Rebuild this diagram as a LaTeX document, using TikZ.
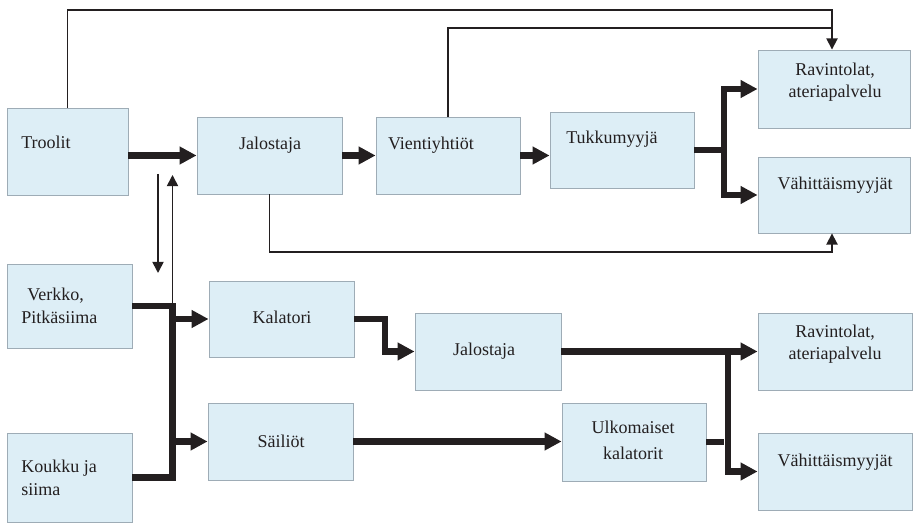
\documentclass[tikz,border=0pt]{standalone}
\usepackage{fontspec}
\setmainfont{Liberation Serif}
\usetikzlibrary{arrows.meta}
\definecolor{boxfill}{RGB}{221,238,246}
\definecolor{boxline}{RGB}{158,172,182}
\definecolor{ink}{RGB}{35,31,32}
\tikzset{
  box/.style={draw=boxline, line width=0.6pt, fill=boxfill, inner sep=0pt},
  txt/.style={text=ink, font=\fontsize{12.8}{16}\selectfont, inner sep=0pt},
  bigline/.style={draw=ink, line width=4.5pt},
  bigarrow/.style={bigline, -{Triangle[length=12pt,width=12pt]}},
  smallline/.style={draw=ink, line width=1.2pt},
  smallarrow/.style={smallline, -{Triangle[length=8pt,width=8pt]}},
}

\begin{document}
\begin{tikzpicture}[x=0.025cm,y=-0.025cm]
\useasboundingbox (0,0) rectangle (913,524);
\foreach \n/\x/\y/\w/\h in {troolit/67.5/151.5/30.25/21.75, jal1/269.5/155.5/36.25/19.25,
  vienti/448/155.5/36/19.25, tukku/622/150/36/19, rav1/834/89/38/19.5,
  vah1/834/195/38/19, verkko/69.5/306/31.25/21, koukku/69.5/477.5/31.25/22.25,
  kalatori/281.5/319/36.25/19, sailiot/280.5/441.5/36.25/19.25, jal2/488/351.5/36.5/19.25,
  ulko/634/442/36/19.5, rav2/835/351.5/38.5/19.25, vah2/835/471.5/38.5/19.25} {
  \node[box, minimum width=\w mm, minimum height=\h mm] (\n) at (\x,\y) {};
}
\node[txt, anchor=west] (troolit-t) at (21,142) {Troolit};
\node[txt] (jal1-t) at (270,145) {Jalostaja};
\node[txt] (vienti-t) at (431,145) {Vientiyhtiöt};
\node[txt] (tukku-t) at (612,139) {Tukkumyyjä};
\node[txt, align=center] (rav1-t) at (835,82) {Ravintolat,\\ateriapalvelu};
\node[txt] (vah1-t) at (835,185) {Vähittäismyyjät};
\node[txt, align=left, anchor=west] (verkko-t) at (21,306) {\hspace*{1.5mm}Verkko,\\Pitkäsiima};
\node[txt, align=left, anchor=west] (koukku-t) at (21,478) {Koukku ja\\siima};
\node[txt] (kalatori-t) at (282,317) {Kalatori};
\node[txt] (sailiot-t) at (281,441) {Säiliöt};
\node[txt] (jal2-t) at (484,351) {Jalostaja};
\node[txt, align=center, font=\fontsize{12.8}{18.5}\selectfont] (ulko-t) at (633,440) {Ulkomaiset\\kalatorit};
\node[txt, align=center] (rav2-t) at (835,344) {Ravintolat,\\ateriapalvelu};
\node[txt] (vah2-t) at (835,462) {Vähittäismyyjät};

\coordinate (loop1) at (0,10);
\coordinate (loop2) at (0,28);
\coordinate (loop3) at (0,252);
\coordinate (fork1) at (724,0);
\coordinate (fork2) at (728,0);
\coordinate (bus) at (172.5,0);
\coordinate (kbend) at (385,0);
\coordinate (stub) at (724,0);
\coordinate (down-a) at (158,174);
\coordinate (down-b) at (158,273);
\coordinate (up-b) at (172.5,175);

\draw[smallarrow] (troolit.north) -- (troolit.north |- loop1) -| ([xshift=-0.5mm]rav1.north);
\draw[smallline] (vienti.north) -- (vienti.north |- loop2) -- ([xshift=-0.5mm]rav1.north |- loop2);
\draw[smallarrow] (jal1.south) -- (jal1.south |- loop3) -| ([xshift=-0.5mm]vah1.south);
\draw[smallarrow] (down-a) -- (down-b);
\draw[smallarrow] (bus |- verkko.east) -- (up-b);

\draw[bigarrow] (troolit.east |- jal1.west) -- (jal1.west);
\draw[bigarrow] (jal1.east) -- (vienti.west);
\draw[bigarrow] (vienti.east) -- (vienti.east -| tukku.west);
\draw[bigline] (tukku.east) -- (fork1 |- tukku.east);
\draw[bigarrow] (fork1 |- tukku.east) |- (rav1.west);
\draw[bigarrow] (fork1 |- tukku.east) |- (vah1.west);

\draw[bigline] (verkko.east) -| (bus |- kalatori.west);
\draw[bigline] (koukku.east) -| (bus |- kalatori.west);
\draw[bigarrow] (bus |- kalatori.west) -- (kalatori.west);
\draw[bigarrow] (bus |- sailiot.west) -- (sailiot.west);
\draw[bigarrow] (kalatori.east) -- (kalatori.east -| kbend) |- (jal2.west);
\draw[bigarrow] (sailiot.east) -- (sailiot.east -| ulko.west);
\draw[bigarrow] (jal2.east) -- (jal2.east -| rav2.west);
\draw[bigarrow] (fork2 |- jal2.east) |- (vah2.west);
\draw[bigline] (ulko.east) -- (ulko.east -| stub);
\end{tikzpicture}
\end{document}
